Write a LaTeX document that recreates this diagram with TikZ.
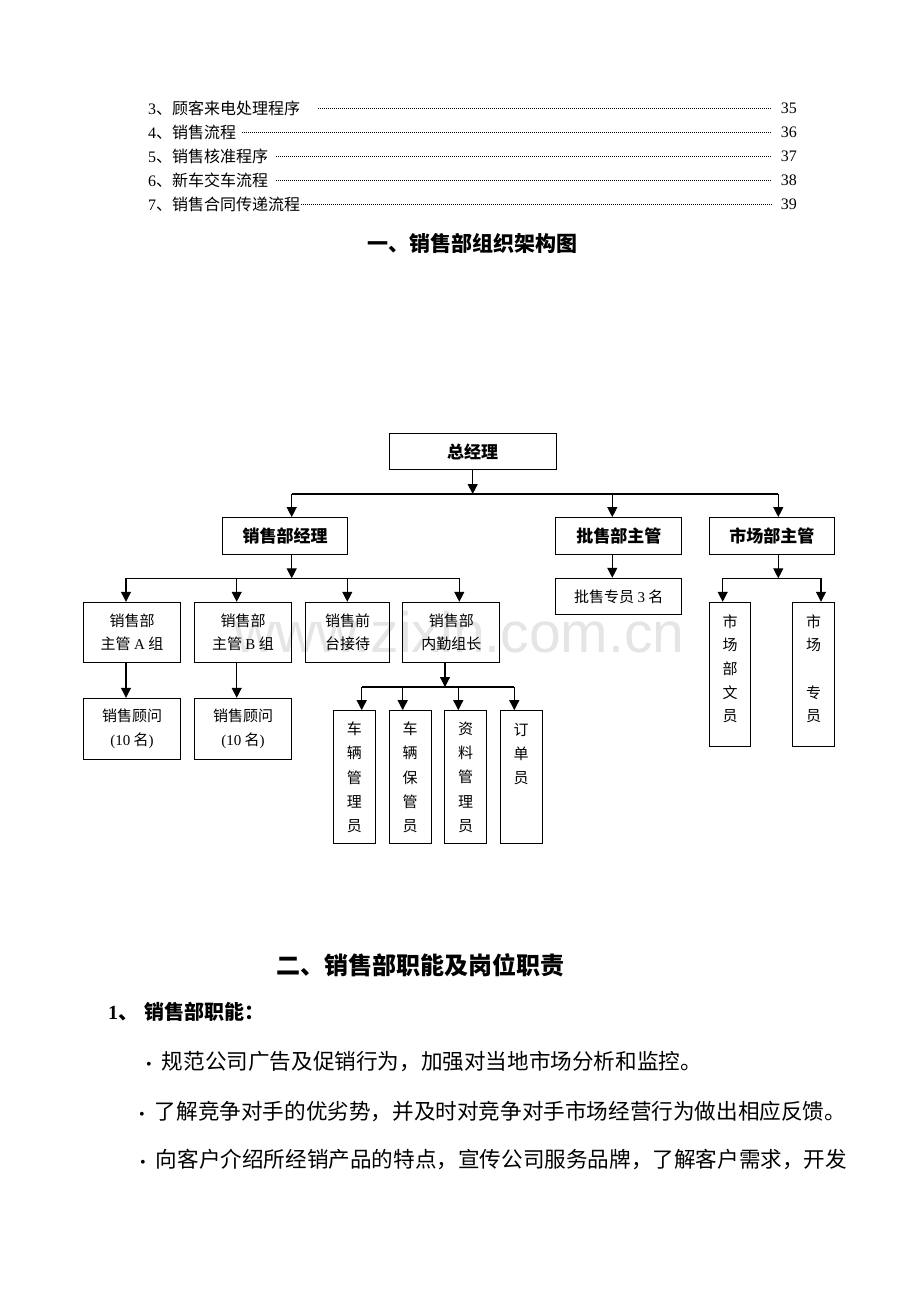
\documentclass[tikz,border=0pt]{standalone}
\usepackage{fontspec}
\setmainfont{Noto Sans CJK SC}
\newfontfamily\timesfont{Liberation Serif}
\newfontfamily\wmfont{Liberation Sans}
\newcommand\tnr[1]{{\timesfont #1}}
\newcommand\dotbul{{\timesfont\fontsize{16}{16}\selectfont •}\hspace{10pt}}
\usetikzlibrary{arrows.meta}

\tikzset{
  box/.style={draw, line width=1pt, inner sep=0pt, align=center, font=\fontsize{15}{23.5}\selectfont},
  headbox/.style={box, minimum height=36.5pt, font=\bfseries\fontsize{17}{20}\selectfont},
  tallbox/.style={box, minimum width=42pt, font=\fontsize{15}{24.2}\selectfont},
  arr/.style={-{Triangle[length=10pt,width=10pt]}, line width=1.2pt},
  bus/.style={line width=1.2pt},
  leader/.style={line width=0.5pt, dash pattern=on 0.7pt off 1.3pt},
  txt/.style={inner sep=0pt, anchor=west},
  tocfont/.style={font=\fontsize{16}{16}\selectfont},
  pagefont/.style={inner sep=0pt, anchor=east, font=\timesfont\fontsize{16}{16}\selectfont},
}

\begin{document}
\begin{tikzpicture}[x=1pt, y=-1pt]
    \useasboundingbox (0,0) rectangle (920,1302);

    % Watermark
    \node[text=black!10, font=\wmfont\fontsize{57}{57}\selectfont] (wm) at (459.5,632) {www.zixin.com.cn};

    % Contents
    \node[txt, tocfont] (t3) at (148,108) {\tnr{3}、顾客来电处理程序};
    \node[txt, tocfont] (t4) at (148,132) {\tnr{4}、销售流程};
    \node[txt, tocfont] (t5) at (148,156) {\tnr{5}、销售核准程序};
    \node[txt, tocfont] (t6) at (148,180) {\tnr{6}、新车交车流程};
    \node[txt, tocfont] (t7) at (148,204) {\tnr{7}、销售合同传递流程};
    \node[pagefont] (p3) at (797,108) {35};
    \node[pagefont] (p4) at (797,132) {36};
    \node[pagefont] (p5) at (797,156) {37};
    \node[pagefont] (p6) at (797,180) {38};
    \node[pagefont] (p7) at (797,204) {39};
    \draw[leader] ([xshift=18pt]t3.east) -- ([xshift=-9pt]p3.west);
    \draw[leader] ([xshift=6pt]t4.east) -- ([xshift=-9pt]p4.west);
    \draw[leader] ([xshift=8pt]t5.east) -- ([xshift=-9pt]p5.west);
    \draw[leader] ([xshift=8pt]t6.east) -- ([xshift=-9pt]p6.west);
    \draw[leader] ([xshift=1pt]t7.east) -- ([xshift=-9pt]p7.west);

    % Title
    \node[font=\bfseries\fontsize{21}{21}\selectfont] (title) at (472.5,243) {一、销售部组织架构图};

    % Top level
    \node[headbox, minimum width=166.7pt] (gm) at (472.7,451.7) {总经理};

    % Second level
    \node[headbox, minimum width=124.7pt] (sm) at (285,535.8) {销售部经理};
    \node[headbox, minimum width=125.7pt] (ws) at (618.8,535.8) {批售部主管};
    \node[headbox, minimum width=125pt] (mk) at (771.8,535.8) {市场部主管};

    % Wholesale
    \node[box, minimum width=125.7pt, minimum height=36pt] (wsp) at (618.8,596.3) {批售专员 \tnr{3} 名};

    % Sales groups
    \node[box, minimum width=97.4pt, minimum height=60.4pt] (sa) at (132,632.5) {销售部\\主管 \tnr{A} 组};
    \node[box, minimum width=97.4pt, minimum height=60.4pt] (sb) at (243,632.5) {销售部\\主管 \tnr{B} 组};
    \node[box, minimum width=83.6pt, minimum height=60.4pt] (fd) at (347.5,632.5) {销售前\\台接待};
    \node[box, minimum width=97.3pt, minimum height=60.4pt] (nq) at (451.3,632.5) {销售部\\内勤组长};
    \node[box, minimum width=97.4pt, minimum height=61pt] (ca) at (132,728.8) {销售顾问\\\tnr{(10} 名\tnr{)}};
    \node[box, minimum width=97.4pt, minimum height=61pt] (cb) at (243,728.8) {销售顾问\\\tnr{(10} 名\tnr{)}};

    % Back office
    \node[tallbox, minimum height=133.3pt] (v1) at (354.3,777.3) {车\\辆\\管\\理\\员};
    \node[tallbox, minimum height=133.3pt] (v2) at (410,777.3) {车\\辆\\保\\管\\员};
    \node[tallbox, minimum height=133.3pt] (v3) at (465.7,777.3) {资\\料\\管\\理\\员};
    \node[tallbox, minimum height=133.3pt] (v4) at (521,777.3) {订\\单\\员\\\mbox{}\\\mbox{}};

    % Market
    \node[tallbox, minimum width=41.4pt, minimum height=144.4pt, font=\fontsize{15}{23.6}\selectfont] (mw) at (730,674.5) {市\\场\\部\\文\\员\\[-11pt]\mbox{}};
    \node[tallbox, minimum width=41.6pt, minimum height=144.4pt, font=\fontsize{15}{23.6}\selectfont] (mz) at (813.5,674.5) {市\\场\\\mbox{}\\专\\员\\[-11pt]\mbox{}};

    % Arrows from the top
    \coordinate (b0) at (472.7,494);
    \coordinate (bl) at (291.7,494);
    \coordinate (bw) at (612.3,494);
    \coordinate (br) at (778.3,494);
    \draw[arr] (gm) -- (b0);
    \draw[bus] (bl) -- (br);
    \draw[arr] (bl) -- (bl |- sm.north);
    \draw[arr] (bw) -- (bw |- ws.north);
    \draw[arr] (br) -- (br |- mk.north);
    \draw[arr] (bw |- ws.south) -- (bw |- wsp.north);

    % Arrows under sales manager
    \coordinate (s0) at (291.7,578.3);
    \coordinate (sa0) at (126,578.3);
    \coordinate (sb0) at (236.7,578.3);
    \coordinate (fd0) at (347.3,578.3);
    \coordinate (nq0) at (459.3,578.3);
    \draw[arr] (s0 |- sm.south) -- (s0);
    \draw[bus] (sa0) -- (nq0);
    \draw[arr] (sa0) -- (sa0 |- sa.north);
    \draw[arr] (sb0) -- (sb0 |- sb.north);
    \draw[arr] (fd0) -- (fd0 |- fd.north);
    \draw[arr] (nq0) -- (nq0 |- nq.north);
    \draw[arr] (sa0 |- sa.south) -- (sa0 |- ca.north);
    \draw[arr] (sb0 |- sb.south) -- (sb0 |- cb.north);

    % Arrows under back office leader
    \coordinate (n0) at (445,687);
    \coordinate (v10) at (361.7,687);
    \coordinate (v20) at (402.7,687);
    \coordinate (v30) at (458.3,687);
    \coordinate (v40) at (514.3,687);
    \draw[arr] (n0 |- nq.south) -- (n0);
    \draw[bus] (v10) -- (v40);
    \draw[arr] (v10) -- (v10 |- v1.north);
    \draw[arr] (v20) -- (v20 |- v2.north);
    \draw[arr] (v30) -- (v30 |- v3.north);
    \draw[arr] (v40) -- (v40 |- v4.north);

    % Arrows under market manager
    \coordinate (m0) at (778.3,578.3);
    \coordinate (mw0) at (722.7,578.3);
    \coordinate (mz0) at (821,578.3);
    \draw[arr] (m0 |- mk.south) -- (m0);
    \draw[bus] (mw0) -- (mz0);
    \draw[arr] (mw0) -- (mw0 |- mw.north);
    \draw[arr] (mz0) -- (mz0 |- mz.north);

    % Section two
    \node[font=\bfseries\fontsize{24}{24}\selectfont] (h2) at (420.5,965) {二、销售部职能及岗位职责};
    \node[txt, font=\bfseries\fontsize{20}{20}\selectfont] (h21) at (108,1012) {\tnr{1}、\hspace{6pt}销售部职能：};
    \node[txt, font=\fontsize{21.6}{22}\selectfont] (l1) at (146,1061) {\dotbul 规范公司广告及促销行为，加强对当地市场分析和监控。};
    \node[txt, font=\fontsize{21.6}{22}\selectfont] (l2) at (139,1111) {\dotbul 了解竞争对手的优劣势，并及时对竞争对手市场经营行为做出相应反馈。};
    \node[txt, font=\fontsize{21.6}{22}\selectfont] (l3) at (140,1159) {\dotbul 向客户介绍所经销产品的特点，宣传公司服务品牌，了解客户需求，开发};
\end{tikzpicture}
\end{document}
